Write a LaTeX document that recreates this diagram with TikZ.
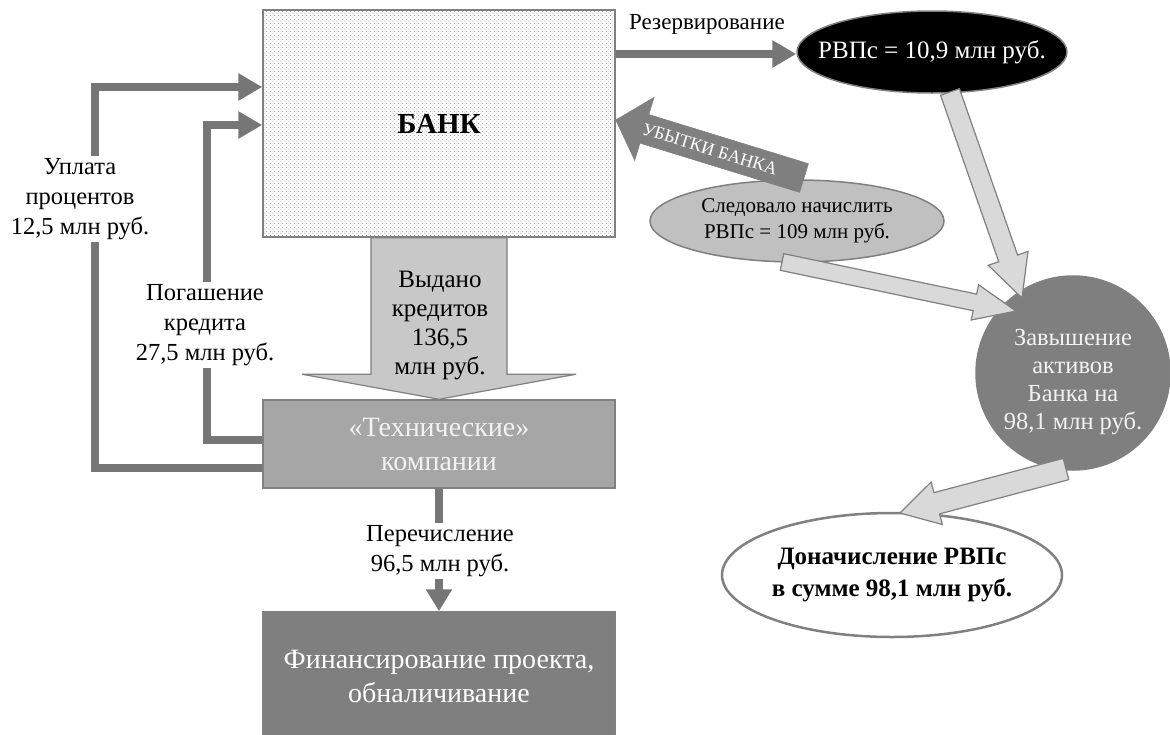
\documentclass[tikz,border=0pt]{standalone}
\usepackage{fontspec}
\setmainfont{Liberation Serif}
\usetikzlibrary{arrows.meta,calc,shapes.geometric,patterns.meta}

\definecolor{flow}{RGB}{118,118,118}
\definecolor{edge}{RGB}{128,128,128}
\definecolor{lightfill}{RGB}{217,217,217}
\definecolor{issuefill}{RGB}{200,200,200}
\definecolor{midfill}{RGB}{166,166,166}
\definecolor{darkfill}{RGB}{127,127,127}
\definecolor{ovalfill}{RGB}{192,192,192}
\definecolor{paletext}{RGB}{242,242,242}

\newcommand\txtmain{\fontsize{24.5}{30}\selectfont}
\newcommand\txtbox{\fontsize{28}{34}\selectfont}
\newcommand\txtoval{\fontsize{21}{26}\selectfont}
\newcommand\txtloss{\fontsize{18}{21}\selectfont}

% fine staggered dots for the bank box
\tikzdeclarepattern{
  name=bankdots,
  type=uncolored,
  bounding box={(0pt,0pt) and (4pt,4pt)},
  tile size={(4pt,4pt)},
  code={
    \pgfpathcircle{\pgfpoint{1pt}{1pt}}{0.65pt}
    \pgfpathcircle{\pgfpoint{3pt}{3pt}}{0.65pt}
    \pgfusepath{fill}
  }
}

% block arrow: #1 style, #2 tail, #3 tip, #4 half shaft width,
% #5 half head width, #6 head length, #7 name prefix
\newcommand\blockarrow[7]{%
  \coordinate (#7-neck) at ($(#3)!#6!(#2)$);
  \draw[#1] ($(#2)!#4!90:(#3)$) -- ($(#7-neck)!#4!90:(#3)$)
    -- ($(#7-neck)!#5!90:(#3)$) -- (#3)
    -- ($(#7-neck)!#5!-90:(#3)$) -- ($(#7-neck)!#4!-90:(#3)$)
    -- ($(#2)!#4!-90:(#3)$) -- cycle;}

\begin{document}
\begin{tikzpicture}[x=1pt,y=1pt,
  flowline/.style={draw=flow,line width=8pt,-{Triangle[length=24pt,width=26pt]}},
  flowplain/.style={draw=flow,line width=8pt},
  flowlabel/.style={fill=white,align=center,inner sep=2pt,font=\txtmain},
  box/.style={rectangle,draw=edge,line width=1.5pt,inner sep=0pt,align=center},
  oval/.style={ellipse,draw=edge,line width=1.5pt,inner sep=0pt},
  bigarrow/.style={fill=lightfill,draw=edge,line width=1.2pt,line join=miter},
]
\useasboundingbox (0,0) rectangle (1170,-734);

% main boxes
\node[box,pattern={bankdots},pattern color=gray!85,minimum width=352pt,minimum height=227pt,
      font=\fontsize{29}{34}\selectfont\bfseries]
  (bank) at (439,-123.5) {БАНК};
\node[box,fill=midfill,text=paletext,minimum width=352pt,minimum height=88pt,font=\txtbox]
  (tech) at (439,-444) {«Технические»\\компании};
\node[box,fill=darkfill,text=white,minimum width=352pt,minimum height=128pt,font=\txtbox]
  (fin) at (439,-676) {Финансирование проекта,\\обналичивание};

% ovals and circle
\node[oval,fill=black,minimum width=270pt,minimum height=82pt] (rvps) at (932,-52) {};
\node[text=white,font=\fontsize{25}{30}\selectfont] (rvpstext) at (rvps.center) {РВПс = 10,9 млн руб.};
\node[oval,fill=ovalfill,minimum width=294pt,minimum height=82pt] (should) at (797,-221) {};
\node[align=center,font=\txtoval] (shouldtext) at (should.center) {Следовало начислить\\РВПс = 109 млн руб.};
\node[circle,draw=edge,line width=1.5pt,fill=darkfill,minimum size=194pt,inner sep=0pt]
  (over) at (1073,-373) {};
\node[text=paletext,align=center,font=\fontsize{24.5}{28}\selectfont]
  (overtext) at (1073,-382) {Завышение\\активов\\Банка на\\98,1 млн руб.};
\node[oval,fill=white,line width=2.5pt,minimum width=340pt,minimum height=124pt] (extra) at (892,-575) {};
\node[align=center,font=\fontsize{25}{32}\selectfont\bfseries] (extratext) at (extra.center)
  {Доначисление РВПс\\в сумме 98,1 млн руб.};

% credit issue: wide arrow from the bank down to the companies
\blockarrow{fill=issuefill,draw=edge,line width=1.2pt}{bank.south}{tech.north}{68pt}{137pt}{25pt}{issue}
\node[align=center,font=\fontsize{25}{29}\selectfont] (issuetext) at (440,-326) {Выдано\\кредитов\\136,5\\млн руб.};

% repayments back to the bank
\draw[flowline] ([yshift=-24pt]tech.west) -- ++(-167,0) |- ([yshift=36.5pt]bank.west);
\draw[flowline] ([yshift=4pt]tech.west) -- ++(-55,0) |- ([yshift=-1.5pt]bank.west);
\node[flowlabel] (paylabel) at (80,-199) {Уплата\\процентов\\12,5 млн руб.};
\node[flowlabel] (repaylabel) at (205,-325) {Погашение\\кредита\\27,5 млн руб.};

% transfer to financing
\draw[flowplain,-{Triangle[length=22pt,width=25pt]}] (tech.south) -- (fin.north);
\node[flowlabel] (transferlabel) at (440,-551) {Перечисление\\96,5 млн руб.};

% reservation
\draw[flowline] (bank.east |- 0,-54) -- (rvps.west |- 0,-54);
\node[font=\fontsize{23}{28}\selectfont] (reservelabel) at (707,-24) {Резервирование};

% bank losses
\coordinate (lossTail) at (804,-178);
\coordinate (lossTip) at ([yshift=3.5pt]bank.east);
\blockarrow{fill=darkfill,draw=darkfill,line width=0.5pt}{lossTail}{lossTip}{15pt}{33pt}{30pt}{loss}
\node[text=white,font=\txtloss,rotate=-17,inner sep=0pt] (losstext) at ($(lossTail)!0.5!(lossTip)$) {УБЫТКИ БАНКА};

% light arrows on the right
\coordinate (rvpsTail) at (950,-92);
\coordinate (rvpsTip) at (1022,-298);
\blockarrow{bigarrow}{rvpsTail}{rvpsTip}{10pt}{21pt}{42pt}{ra}
\coordinate (shouldTail) at (782,-262);
\coordinate (shouldTip) at (1016,-311);
\blockarrow{bigarrow}{shouldTail}{shouldTip}{8.5pt}{18pt}{42pt}{sa}
\coordinate (overTail) at (1066,-469);
\coordinate (overTip) at (900,-513);
\blockarrow{bigarrow}{overTail}{overTip}{11pt}{22pt}{38pt}{oa}
\end{tikzpicture}
\end{document}
